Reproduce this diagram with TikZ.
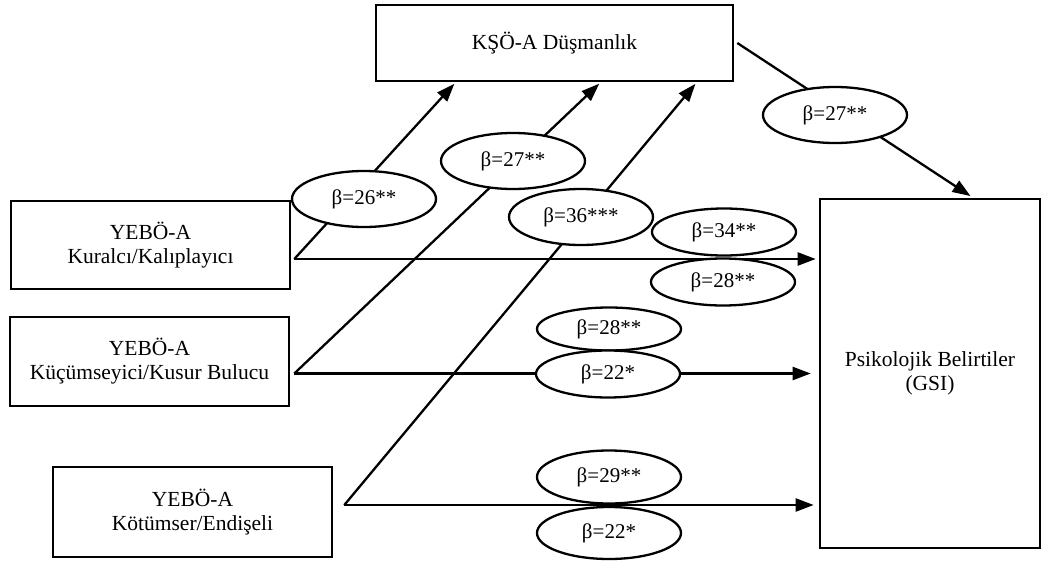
\documentclass[tikz,border=0pt]{standalone}
\usepackage{fontspec}
\setmainfont{Liberation Serif}
\usetikzlibrary{arrows.meta,shapes.geometric,calc}
\begin{document}
\begin{tikzpicture}[x=1pt,y=-1pt,
  box/.style={draw, line width=2.6pt, align=center, inner sep=0pt, font=\fontsize{21.5}{24}\selectfont},
  beta/.style={draw, ellipse, fill=white, line width=2.3pt, inner sep=0pt, minimum width=144pt, font=\fontsize{21}{24}\selectfont},
  conn/.style={line width=2.3pt, -{Triangle[length=18pt,width=13pt]}}]
\useasboundingbox (0,0) rectangle (1042,565);
% boxes
\node[box, minimum width=357pt, minimum height=76pt] (ksoa) at (554.5,43) {KŞÖ-A Düşmanlık};
\node[box, minimum width=279pt, minimum height=88pt] (kur) at (150.5,245) {YEBÖ-A\\Kuralcı/Kalıplayıcı};
\node[box, minimum width=279pt, minimum height=89pt] (kuc) at (149.5,361.5) {YEBÖ-A\\Küçümseyici/Kusur Bulucu};
\node[box, minimum width=279pt, minimum height=90pt] (kot) at (192.5,512) {YEBÖ-A\\Kötümser/Endişeli};
\node[box, minimum width=220pt, minimum height=349pt] (gsi) at (930,373.5) {Psikolojik Belirtiler\\(GSI)};
% connector ends
\coordinate (s1) at ($(kur.east)+(3,14)$);
\coordinate (s2) at ($(kuc.east)+(4,12)$);
\coordinate (s3) at ($(kot.east)+(11,-7)$);
\coordinate (t1) at ($(ksoa.south west)+(81,0)$);
\coordinate (t2) at ($(ksoa.south west)+(226,0)$);
\coordinate (t3) at ($(ksoa.south west)+(322,0)$);
\coordinate (k1) at ($(ksoa.east)+(3,0)$);
\coordinate (g1) at ($(gsi.north)+(43,0)$);
% connectors
\draw[conn, shorten >=2pt] (s1) -- (t1);
\draw[conn, shorten >=2pt] (s2) -- (t2);
\draw[conn, shorten >=2pt] (s3) -- (t3);
\draw[conn, shorten >=3pt] (s1) -- (s1 -| gsi.west);
\draw[conn, shorten >=8pt] (s2) -- (s2 -| gsi.west);
\draw[conn, shorten >=5pt] (s3) -- (s3 -| gsi.west);
\draw[conn, shorten >=3pt] (k1) -- (g1);
% coefficient labels
\node[beta, minimum height=56pt] (b26) at (364,199) {β=26**};
\node[beta, minimum height=56pt] (b27a) at (513,161) {β=27**};
\node[beta, minimum height=56pt] (b36) at (581,217) {β=36***};
\node[beta, minimum height=56pt] (b27b) at (835,115) {β=27**};
\node[beta, minimum height=47pt] (b34) at (724,232) {β=34**};
\node[beta, minimum height=47pt] (b28a) at (723,282) {β=28**};
\node[beta, minimum height=43pt] (b28b) at (609,329) {β=28**};
\node[beta, minimum height=47pt] (b22a) at (608,374) {β=22*};
\node[beta, minimum height=53pt] (b29) at (609,477) {β=29**};
\node[beta, minimum height=52pt] (b22b) at (609,533) {β=22*};
\end{tikzpicture}
\end{document}
